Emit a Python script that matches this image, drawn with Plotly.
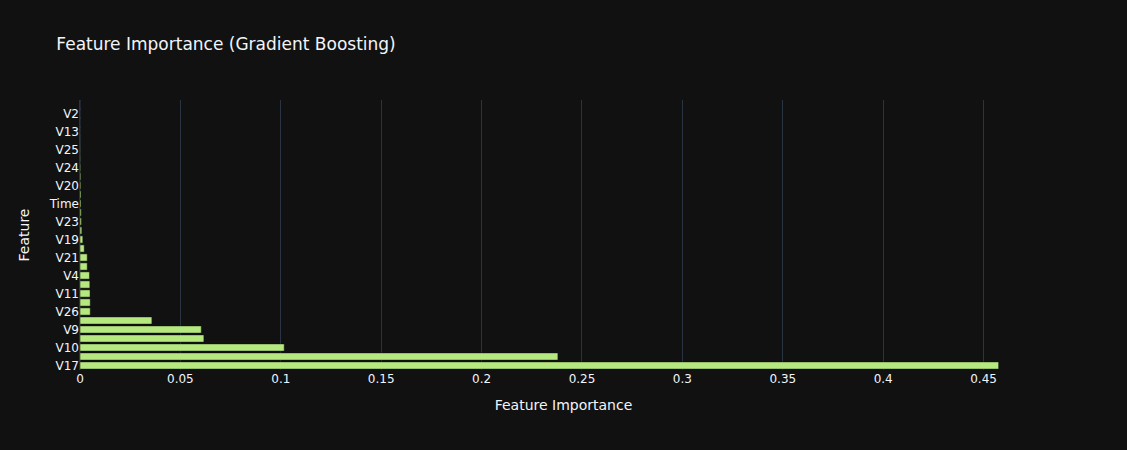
import plotly.graph_objects as go

features = ["V17", "V14", "V10", "V12", "V9", "V16", "V26", "Amount", "V11", "V8",
            "V4", "V1", "V21", "V3", "V19", "V7", "V23", "V18", "Time", "V5",
            "V20", "V6", "V24", "V15", "V25", "V22", "V13", "V28", "V2", "V27"]
importance = [0.4575, 0.238, 0.1017, 0.0617, 0.0604, 0.0358, 0.0051, 0.0051, 0.0050, 0.0049,
              0.0047, 0.0036, 0.0036, 0.0021, 0.0014, 0.0009, 0.0007, 0.0006, 0.0005, 0.0005,
              0.0004, 0.0004, 0.0003, 0.00015, 0.0001, 0.00005, 0.00002, 0.0, 0.0, 0.0]

fig = go.Figure(go.Bar(
    x=importance,
    y=features,
    orientation="h",
    marker=dict(color="#B6E880"),
))

fig.update_layout(
    template="plotly_dark",
    font=dict(family="Verdana, DejaVu Sans, sans-serif"),
    title=dict(text="Feature Importance (Gradient Boosting)"),
    xaxis_title="Feature Importance",
    yaxis_title="Feature",
    width=1127,
    height=450,
    margin=dict(l=80, r=80, t=100, b=80),
    showlegend=False,
)

fig.write_html("out.html")
